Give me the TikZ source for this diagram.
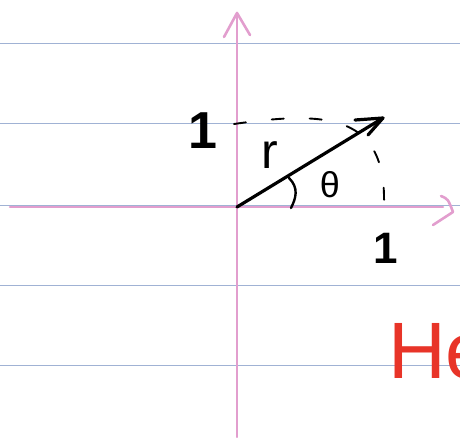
\documentclass[tikz,border=0pt]{standalone}
\usepackage{fontspec}
\usetikzlibrary{arrows.meta, positioning, calc}
\definecolor{ruleblue}{RGB}{160,178,212}
\definecolor{axispink}{RGB}{226,158,206}
\definecolor{inkred}{RGB}{232,52,40}
\newfontfamily\handfont{Liberation Sans}

\begin{document}
\begin{tikzpicture}[x=1pt, y=-1pt,
  ink/.style={black, line width=3.2pt, line cap=round, line join=round},
  axis/.style={axispink, line width=2.6pt, line cap=round, line join=round},
  paper/.style={ruleblue, line width=1pt},
  hand/.style={inner sep=0pt, font=\handfont}]
  \useasboundingbox (0,0) rectangle (460,437);
  \clip (0,0) rectangle (460,437);
  % ruled paper
  \foreach \y in {43,123,205,285,365} {
    \draw[paper] (0,\y) -- (460,\y);
  }
  % axes
  \coordinate (O) at (237,207);
  \coordinate (ytip) at (237,13);
  \coordinate (xtip) at (453,212);
  \draw[axis] (237,437) -- (ytip);
  \draw[axis] (224,37) -- (ytip) -- (250,35);
  \draw[axis] (10,207) -- (443,207);
  \draw[axis] (441,196) .. controls (448,199) .. (xtip) -- (433,225);
  % vector r
  \coordinate (P) at (383,118);
  \draw[ink] (O) -- (P);
  \draw[ink] (355,120) -- (P) -- (368,135);
  % dashed unit arc
  \draw[ink, line width=1.9pt, dash pattern=on 12pt off 26pt]
    (234,124) .. controls (330,110) and (386,116) .. (384,204);
  % angle mark
  \draw[ink, line width=2.4pt] (289,178) .. controls (299,188) and (296,198) .. (291,208);
  % labels
  \node[hand, font=\handfont\bfseries\fontsize{52}{60}\selectfont] (ylab) at (203,131) {1};
  \node[hand, font=\handfont\bfseries\fontsize{44}{50}\selectfont] (xlab) at (386,248) {1};
  \node[hand, font=\handfont\fontsize{50}{56}\selectfont] (rlab) at (270,155) {r};
  \node[hand, font=\handfont\fontsize{36}{40}\selectfont] (thlab) at (330,185) {θ};
  \node[hand, anchor=base west, text=inkred, font=\handfont\fontsize{80}{90}\selectfont]
    (note) at (388,378) {He};
\end{tikzpicture}
\end{document}
